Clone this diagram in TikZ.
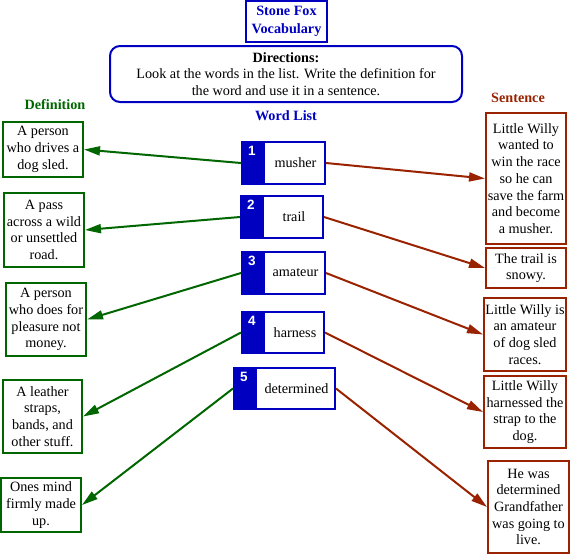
\documentclass[tikz,border=0pt]{standalone}
\usepackage{fontspec}
\setmainfont{Liberation Serif}
\newfontfamily\numfont{Liberation Sans}
\usetikzlibrary{arrows.meta,calc}
\definecolor{dgreen}{RGB}{0,102,0}
\definecolor{dred}{RGB}{153,34,0}
\definecolor{dblue}{RGB}{0,0,192}
\tikzset{
  txt/.style={font=\fontsize{14.2}{16.7}\selectfont, align=center, inner sep=0pt},
  defbox/.style={txt, draw=dgreen, line width=2pt},
  senbox/.style={txt, draw=dred, line width=2pt},
  wordbox/.style={txt, draw=dblue, line width=2pt},
  numlab/.style={font=\numfont\bfseries\fontsize{13.5}{14}\selectfont, text=white, inner sep=0pt},
  head/.style={font=\bfseries\fontsize{14.2}{16}\selectfont, inner sep=0pt},
  defarrow/.style={draw=dgreen, line width=2pt, -{Triangle[length=16pt,width=9pt]}},
  senarrow/.style={draw=dred, line width=2pt, -{Triangle[length=16pt,width=9pt]}},
}
\begin{document}
\begin{tikzpicture}[x=1pt,y=-1pt]
\useasboundingbox (0,0) rectangle (571,555);
% title
\node[txt, draw=dblue, line width=2pt, minimum width=81pt, minimum height=41pt, font=\bfseries\fontsize{14.2}{18}\selectfont, text=dblue] (title) at (286.5,21.5) {Stone Fox\\Vocabulary};
% directions
\node[txt, draw=dblue, line width=2pt, rounded corners=10pt, minimum width=352pt, minimum height=56pt] (dir) at (286,74) {\textbf{Directions:}\\Look at the words in the list. Write the definition for\\the word and use it in a sentence.};
% headings
\node[head, text=dgreen] (hdef) at (55,105) {Definition};
\node[head, text=dred] (hsen) at (518,98) {Sentence};
\node[head, text=dblue] (hwl) at (286,116) {Word List};
% word boxes
\node[wordbox, minimum width=83pt, minimum height=42pt] (w1) at (283.5,163) {};
\node[wordbox, minimum width=82pt, minimum height=42pt] (w2) at (282,217) {};
\node[wordbox, minimum width=83pt, minimum height=42pt] (w3) at (283.5,273) {};
\node[wordbox, minimum width=82pt, minimum height=41pt] (w4) at (283,332.5) {};
\node[wordbox, minimum width=101pt, minimum height=41pt] (w5) at (284.5,388.5) {};
\foreach \w/\n/\t in {w1/1/musher,w2/2/trail,w3/3/amateur,w4/4/harness,w5/5/determined}{
  \fill[dblue] (\w.north west) rectangle ([xshift=24pt]\w.south west);
  \node[numlab] (\w n) at ([xshift=11pt,yshift=-10pt]\w.north west) {\n};
  \node[txt] (\w t) at ($([xshift=24pt]\w.west)!0.5!(\w.east)$) {\t};
}
% definition boxes
\node[defbox, minimum width=80pt, minimum height=55pt] (d1) at (43,149.5) {A person\\who drives a\\dog sled.};
\node[defbox, minimum width=80pt, minimum height=74pt] (d2) at (44,230) {A pass\\across a wild\\or unsettled\\road.};
\node[defbox, minimum width=80pt, minimum height=73pt] (d3) at (46,319.5) {A person\\who does for\\pleasure not\\money.};
\node[defbox, minimum width=79pt, minimum height=73pt] (d4) at (42.5,416.5) {A leather\\straps,\\bands, and\\other stuff.};
\node[defbox, minimum width=80pt, minimum height=54pt] (d5) at (41,505) {Ones mind\\firmly made\\up.};
% sentence boxes
\node[senbox, minimum width=80pt, minimum height=131pt] (s1) at (526,178.5) {Little Willy\\wanted to\\win the race\\so he can\\save the farm\\and become\\a musher.};
\node[senbox, minimum width=80pt, minimum height=40pt] (s2) at (526,268) {The trail is\\snowy.};
\node[senbox, minimum width=82pt, minimum height=73pt] (s3) at (525,334.5) {Little Willy is\\an amateur\\of dog sled\\races.};
\node[senbox, minimum width=82pt, minimum height=72pt] (s4) at (525,412) {Little Willy\\harnessed the\\strap to the\\dog.};
\node[senbox, minimum width=81pt, minimum height=92pt] (s5) at (528.5,507) {He was\\determined\\Grandfather\\was going to\\live.};
% arrows
\foreach \i in {1,...,5}{
  \draw[defarrow] (w\i.west) -- (d\i.east);
  \draw[senarrow] (w\i.east) -- (s\i.west);
}
\end{tikzpicture}
\end{document}
